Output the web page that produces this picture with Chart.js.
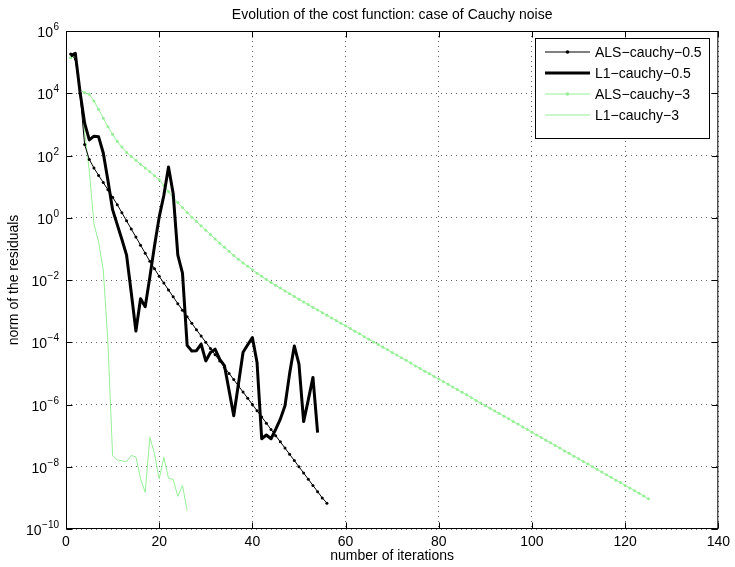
<!DOCTYPE html>
<html>
<head>
<meta charset="utf-8">
<script src="https://cdn.jsdelivr.net/npm/chart.js@4.4.0/dist/chart.umd.min.js"></script>
<style>
  body { margin: 0; background: #fff; }
  #wrap { width: 735px; height: 567px; }
</style>
</head>
<body>
<div id="wrap"><canvas id="myChart" width="735" height="567"></canvas></div>
<script>
const FONT = "'Liberation Sans', Arial, Helvetica, sans-serif";

// AXES
const xTickValues = [0, 20, 40, 60, 80, 100, 120, 140];
const yDecades = [-10, -8, -6, -4, -2, 0, 2, 4, 6];

// NORM OF RESIDUALS AS log10 (ITERATION 1, 2, 3 ...)
const alsCauchy05 = [5.26, 5.1, 4.0, 2.35, 1.87, 1.6, 1.36, 1.13, 0.9, 0.66,
  0.42, 0.16, -0.1, -0.36, -0.62, -0.88, -1.14, -1.4, -1.64, -1.88,
  -2.1, -2.32, -2.54, -2.76, -2.97, -3.18, -3.39, -3.6, -3.8, -4.0,
  -4.2, -4.4, -4.6, -4.8, -5.0, -5.2, -5.4, -5.6, -5.8, -6.0,
  -6.2, -6.4, -6.6, -6.8, -7.0, -7.2, -7.4, -7.6, -7.8, -8.0,
  -8.2, -8.4, -8.6, -8.8, -9.0, -9.17];

const l1Cauchy05 = [5.2, 5.28, 4.05, 3.04, 2.5, 2.62, 2.6, 2.08, 1.2, 0.26,
  -0.22, -0.7, -1.2, -2.4, -3.64, -2.6, -2.86, -1.9, -0.9, 0.02,
  0.72, 1.63, 0.78, -1.2, -1.78, -4.1, -4.28, -4.27, -4.06, -4.6,
  -4.33, -4.22, -4.55, -4.75, -5.55, -6.36, -5.35, -4.32, -4.08, -3.85,
  -4.65, -7.1, -6.98, -7.1, -6.8, -6.47, -6.04, -5.0, -4.12, -4.7,
  -6.55, -5.85, -5.13, -6.9];

const alsCauchy3 = [5.15, 5.28, 4.1, 4.02, 3.97, 3.75, 3.48, 3.2, 2.92, 2.68,
  2.45, 2.27, 2.1, 1.97, 1.85, 1.72, 1.6, 1.48, 1.35, 1.22,
  1.04, 0.84, 0.65, 0.49, 0.33, 0.17, 0.02, -0.12, -0.26, -0.4,
  -0.54, -0.68, -0.82, -0.95, -1.08, -1.21, -1.33, -1.45, -1.56, -1.67,
  -1.78, -1.88, -1.98, -2.08, -2.17, -2.26, -2.35, -2.44, -2.53, -2.62,
  -2.71, -2.79, -2.88, -2.96, -3.05, -3.13, -3.22, -3.3, -3.39, -3.47,
  -3.56, -3.65, -3.73, -3.82, -3.9, -3.99, -4.07, -4.16, -4.24, -4.33,
  -4.41, -4.5, -4.58, -4.67, -4.76, -4.84, -4.93, -5.01, -5.1, -5.18,
  -5.27, -5.35, -5.44, -5.52, -5.61, -5.69, -5.78, -5.87, -5.95, -6.04,
  -6.12, -6.21, -6.29, -6.38, -6.46, -6.55, -6.63, -6.72, -6.8, -6.89,
  -6.98, -7.06, -7.15, -7.23, -7.32, -7.4, -7.49, -7.57, -7.66, -7.74,
  -7.83, -7.91, -8.0, -8.09, -8.17, -8.26, -8.34, -8.43, -8.51, -8.6,
  -8.68, -8.77, -8.85, -8.94, -9.03];

const l1Cauchy3 = [5.1, 5.25, 4.0, 2.75, 1.5, -0.2, -0.78, -1.68, -4.0, -7.64,
  -7.78, -7.81, -7.84, -7.64, -7.68, -8.39, -8.82, -7.05, -7.59, -8.39,
  -7.7, -8.37, -8.41, -8.95, -8.6, -9.41];

const seriesNames = ["ALS\u2212cauchy\u22120.5", "L1\u2212cauchy\u22120.5", "ALS\u2212cauchy\u22123", "L1\u2212cauchy\u22123"];

const GREEN = "rgb(150,240,150)";

function toPoints(logs) {
  return logs.map((e, i) => ({ x: i + 1, y: Math.pow(10, e) }));
}

// MATLAB STYLE BOX, INWARD TICKS, LABELS AND LEGEND
const matlabLook = {
  id: "matlabLook",
  afterDraw(chart) {
    const ctx = chart.ctx;
    const a = chart.chartArea;
    const xs = chart.scales.x;
    const ys = chart.scales.y;
    const L = a.left + 0.5, R = a.right - 0.5, T = a.top + 0.5, B = a.bottom - 0.5;
    ctx.save();
    ctx.strokeStyle = "#000";
    ctx.lineWidth = 1;
    ctx.setLineDash([]);

    // ticks pointing inward
    ctx.beginPath();
    xTickValues.forEach(v => {
      const px = Math.round(xs.getPixelForValue(v)) + 0.5;
      ctx.moveTo(px, B); ctx.lineTo(px, B - 6);
      ctx.moveTo(px, T); ctx.lineTo(px, T + 6);
    });
    yDecades.forEach(e => {
      const py = Math.round(ys.getPixelForValue(Math.pow(10, e))) + 0.5;
      ctx.moveTo(L, py); ctx.lineTo(L + 6, py);
      ctx.moveTo(R, py); ctx.lineTo(R - 6, py);
    });
    ctx.stroke();
    ctx.strokeRect(L, T, R - L, B - T);

    // y labels: 10 with exponent
    ctx.fillStyle = "#000";
    yDecades.forEach(e => {
      const py = ys.getPixelForValue(Math.pow(10, e));
      const sup = e < 0 ? "\u2212" + Math.abs(e) : String(e);
      ctx.font = "10px " + FONT;
      const w = ctx.measureText(sup).width;
      const xr = 59;
      ctx.textAlign = "left";
      ctx.textBaseline = "alphabetic";
      ctx.fillText(sup, xr - w, py - 1);
      ctx.font = "14px " + FONT;
      ctx.textAlign = "right";
      ctx.fillText("10", xr - w - 0.5, py + 6);
    });

    // title and axis titles
    const cx = (a.left + a.right) / 2;
    ctx.font = "14px " + FONT;
    ctx.textAlign = "center";
    ctx.textBaseline = "middle";
    ctx.fillText("Evolution of the cost function: case of Cauchy noise", cx, 15);
    ctx.fillText("number of iterations", cx, 556);
    ctx.save();
    ctx.translate(14, (a.top + a.bottom) / 2);
    ctx.rotate(-Math.PI / 2);
    ctx.fillText("norm of the residuals", 0, 0);
    ctx.restore();

    // legend
    const bx = 535.5, by = 38.5, bw = 174, bh = 100;
    ctx.fillStyle = "#fff";
    ctx.fillRect(bx, by, bw, bh);
    ctx.strokeStyle = "#000";
    ctx.strokeRect(bx, by, bw, bh);
    chart.data.datasets.forEach((ds, i) => {
      const ry = 52 + i * 21;
      ctx.strokeStyle = ds.borderColor;
      ctx.lineWidth = ds.borderWidth;
      ctx.beginPath();
      ctx.moveTo(545, ry); ctx.lineTo(590, ry);
      ctx.stroke();
      if (ds.pointRadius > 0) {
        ctx.fillStyle = ds.borderColor;
        ctx.beginPath();
        ctx.arc(567.5, ry, ds.pointRadius + 0.3, 0, Math.PI * 2);
        ctx.fill();
      }
      ctx.fillStyle = "#000";
      ctx.font = "14px " + FONT;
      ctx.textAlign = "left";
      ctx.textBaseline = "middle";
      ctx.fillText(ds.label, 595, ry + 1);
    });
    ctx.restore();
  }
};

const chartCanvas = document.getElementById("myChart");
const chart = new Chart(chartCanvas, {
  type: "line",
  data: {
    datasets: [
      {
        label: seriesNames[0],
        data: toPoints(alsCauchy05),
        borderColor: "#000",
        backgroundColor: "#000",
        borderWidth: 1,
        pointRadius: 1.5,
        pointBorderWidth: 0,
        pointBackgroundColor: "#000"
      },
      {
        label: seriesNames[1],
        data: toPoints(l1Cauchy05),
        borderColor: "#000",
        borderWidth: 3,
        pointRadius: 0
      },
      {
        label: seriesNames[2],
        data: toPoints(alsCauchy3),
        borderColor: GREEN,
        backgroundColor: GREEN,
        borderWidth: 1,
        pointRadius: 1.5,
        pointBorderWidth: 0,
        pointBackgroundColor: GREEN
      },
      {
        label: seriesNames[3],
        data: toPoints(l1Cauchy3),
        borderColor: GREEN,
        borderWidth: 1,
        pointRadius: 0
      }
    ]
  },
  options: {
    responsive: false,
    animation: false,
    devicePixelRatio: 1,
    layout: { padding: { left: 0, right: 12, top: 31, bottom: 0 } },
    elements: { line: { tension: 0, borderJoinStyle: "round" } },
    plugins: {
      legend: { display: false },
      title: { display: false },
      tooltip: { enabled: false }
    },
    scales: {
      x: {
        type: "linear",
        min: 0,
        max: 140,
        afterBuildTicks: scale => { scale.ticks = xTickValues.map(v => ({ value: v })); },
        afterFit: scale => { scale.height = 38; },
        ticks: {
          color: "#000",
          font: { family: FONT, size: 14 },
          padding: 5,
          maxRotation: 0,
          autoSkip: false
        },
        grid: { color: "rgba(0,0,0,0.6)", lineWidth: 1, drawTicks: false },
        border: { display: false, dash: [1, 4] }
      },
      y: {
        type: "logarithmic",
        min: 1e-10,
        max: 1e6,
        afterBuildTicks: scale => { scale.ticks = yDecades.map(e => ({ value: Math.pow(10, e) })); },
        afterFit: scale => { scale.width = 66; },
        ticks: { display: false },
        grid: { color: "rgba(0,0,0,0.6)", lineWidth: 1, drawTicks: false },
        border: { display: false, dash: [1, 4] }
      }
    }
  },
  plugins: [matlabLook]
});
</script>
</body>
</html>
